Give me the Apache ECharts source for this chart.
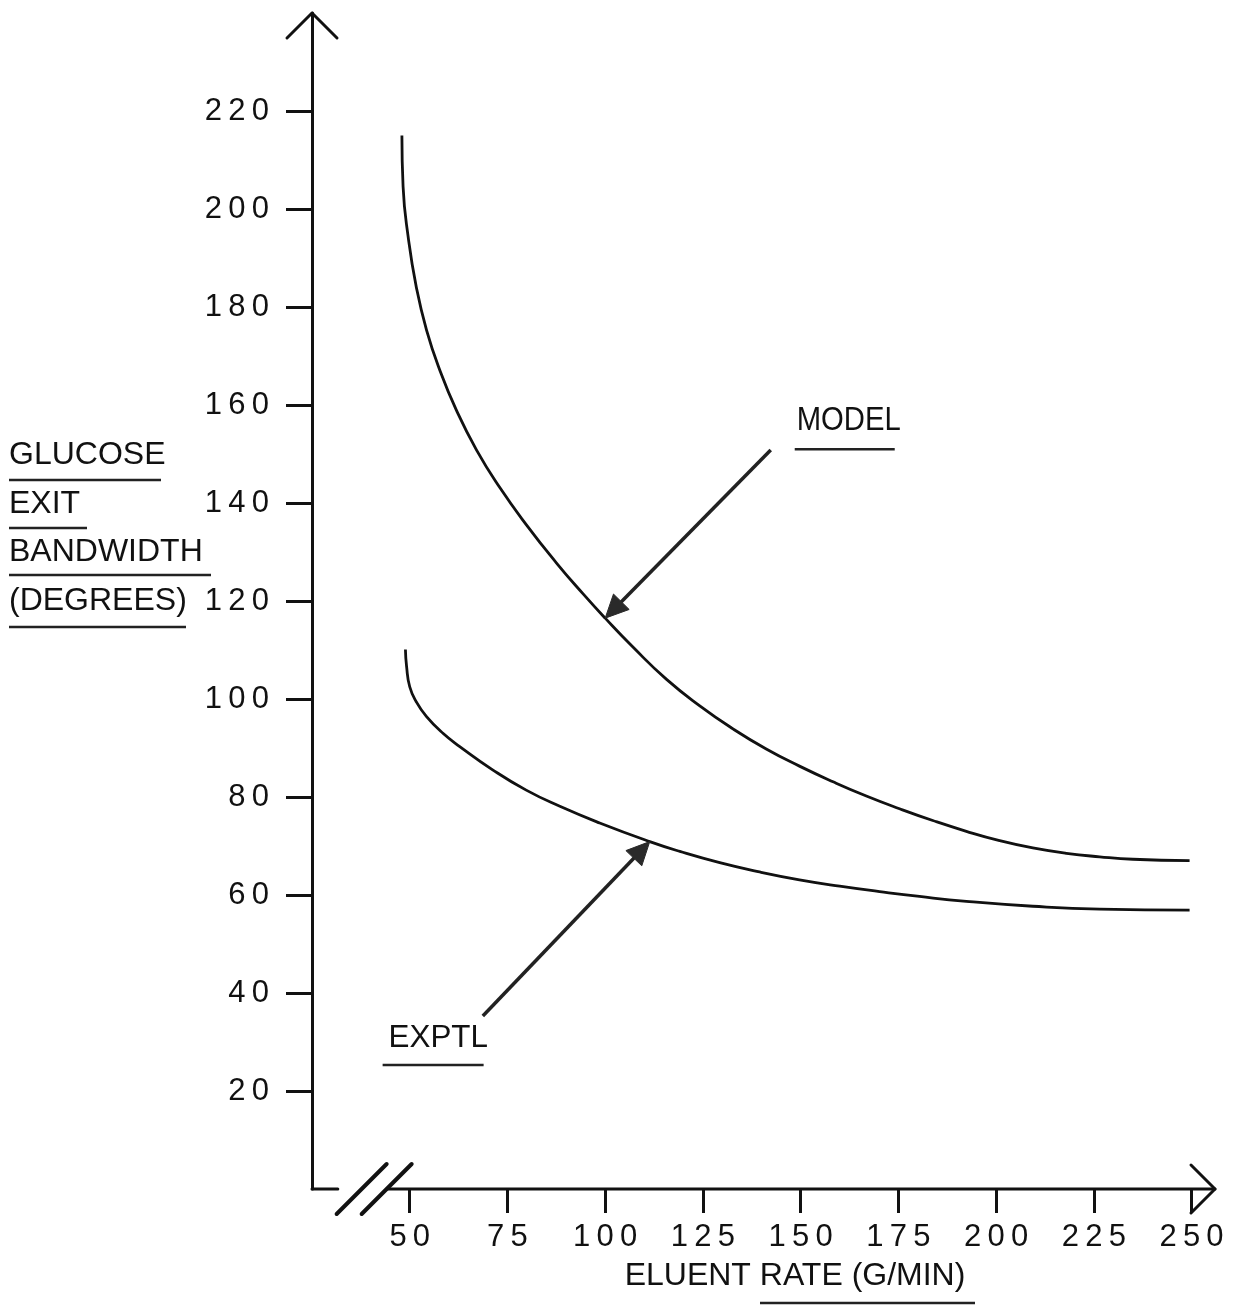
<!DOCTYPE html>
<html>
<head>
<meta charset="utf-8">
<title>Glucose exit bandwidth vs eluent rate</title>
<script src="https://cdn.jsdelivr.net/npm/echarts@6/dist/echarts.min.js"></script>
<style>
  html, body { margin: 0; padding: 0; background: #ffffff; }
  #chart { width: 1244px; height: 1306px; }
</style>
</head>
<body>
<div id="chart"></div>
<script>
// Tick values on both axes
const rateTicks = [50, 75, 100, 125, 150, 175, 200, 225, 250];
const widthTicks = [20, 40, 60, 80, 100, 120, 140, 160, 180, 200, 220];

// MODEL curve: eluent rate (g/min) vs glucose exit bandwidth (degrees)
const modelRate = [48, 48.3, 49.6, 51.7, 54.3, 57.7, 61.9, 67.1, 73, 79.8, 87.5, 94.3, 100,
  107.1, 115.7, 124.2, 132.7, 141.2, 149.7, 158.3, 166.8, 175.3, 183.8, 192.4, 200.9,
  209.4, 218, 226.5, 235, 249.5];
const modelWidth = [215, 204.6, 194.3, 184, 175.3, 167.1, 159, 150.8, 143.2, 135.6, 127.8, 121.5, 116.5,
  110.6, 104, 98.6, 93.9, 89.8, 86.3, 83.1, 80.2, 77.6, 75.2, 73, 71.1,
  69.6, 68.5, 67.8, 67.3, 67];

// EXPTL curve
const exptlRate = [48.9, 49.2, 50, 51.7, 54.3, 58.5, 62.8, 71.3, 79.8, 88.4, 98.6, 111.4, 119.1, 129.3, 139.5,
  149.7, 160, 170.2, 180.4, 192.4, 209.4, 226.5, 249.5];
const exptlWidth = [110.1, 106.6, 102.5, 99.4, 96.4, 93, 90.3, 85.5, 81.4, 78.1, 74.7, 70.9, 68.9, 66.6, 64.7,
  63.1, 61.8, 60.7, 59.7, 58.7, 57.7, 57.1, 56.9];

// Axis titles
const yTitleLines = ['GLUCOSE', 'EXIT', 'BANDWIDTH', '(DEGREES)'];
const xTitle = 'ELUENT RATE (G/MIN)';

// Callouts: label anchor and arrow tail in data units, arrow head on a curve point
const modelNote = { text: 'MODEL', label: [149, 156.8], tail: [142.35, 150.8], headIndex: 12 };
const exptlNote = { text: 'EXPTL', label: [44.6, 30.7], tail: [68.7, 35.3], headIndex: 11 };

// Axis extents: the vertical axis stands at rate 25; the horizontal axis is broken before 50
const X_MIN = 25, X_MAX = 256, Y_MIN = 0, Y_MAX = 240;
const BREAK_STUB_END = 31.6, BREAK_SLASH_1 = 37.7, BREAK_SLASH_2 = 44.1;

const INK = '#111111';
const FONT = '"Liberation Sans", Arial, Helvetica, sans-serif';

function zip(xs, ys) { return xs.map((x, i) => [x, ys[i]]); }
// tick numbers are set with wide tracking
function spaced(v) { return String(v).split('').join('\u2009'); }

function arrow(tail, tip, headLen, headHalf) {
  const dx = tip[0] - tail[0], dy = tip[1] - tail[1];
  const L = Math.hypot(dx, dy), ux = dx / L, uy = dy / L;
  const base = [tip[0] - ux * headLen, tip[1] - uy * headLen];
  const nx = -uy, ny = ux;
  return [
    { type: 'line', shape: { x1: tail[0], y1: tail[1], x2: base[0] + ux * 2, y2: base[1] + uy * 2 },
      style: { stroke: '#222', lineWidth: 3.5 } },
    { type: 'polygon', shape: { points: [tip, [base[0] + nx * headHalf, base[1] + ny * headHalf], [base[0] - nx * headHalf, base[1] - ny * headHalf]] },
      style: { fill: '#2a2a2a', stroke: '#2a2a2a', lineWidth: 1 } }
  ];
}

function note(api, n, points, fontSize, scaleX, ul) {
  const p = api.coord(n.label);
  const tail = api.coord(n.tail);
  const tip = api.coord(points[n.headIndex]);
  return [
    { type: 'text', x: p[0], y: p[1], scaleX: scaleX, originX: 0, originY: 0,
      style: { text: n.text, font: fontSize + 'px ' + FONT, fill: INK, align: 'left', verticalAlign: 'middle' } },
    { type: 'line', shape: { x1: p[0] + ul[0], y1: p[1] + ul[2], x2: p[0] + ul[1], y2: p[1] + ul[2] },
      style: { stroke: '#222', lineWidth: 2.5 } }
  ].concat(arrow(tail, tip, 23, 11));
}

function renderFrame(params, api) {
  const origin = api.coord([X_MIN, Y_MIN]);
  const top = api.coord([X_MIN, Y_MAX]);
  const end = api.coord([X_MAX, Y_MIN]);
  const stubEnd = api.coord([BREAK_STUB_END, Y_MIN]);
  const s1 = api.coord([BREAK_SLASH_1, Y_MIN]);
  const s2 = api.coord([BREAK_SLASH_2, Y_MIN]);
  const axisStyle = { stroke: INK, lineWidth: 3, lineCap: 'round', lineJoin: 'round' };
  const children = [
    // short stub of the horizontal axis next to the corner
    { type: 'line', shape: { x1: origin[0], y1: origin[1], x2: stubEnd[0], y2: stubEnd[1] }, style: axisStyle },
    // main horizontal axis after the break
    { type: 'line', shape: { x1: s2[0], y1: s2[1], x2: end[0], y2: end[1] }, style: axisStyle },
    // break marks
    { type: 'line', shape: { x1: s1[0] - 25, y1: s1[1] + 25, x2: s1[0] + 25, y2: s1[1] - 25 }, style: { stroke: INK, lineWidth: 4, lineCap: 'round' } },
    { type: 'line', shape: { x1: s2[0] - 25, y1: s2[1] + 25, x2: s2[0] + 25, y2: s2[1] - 25 }, style: { stroke: INK, lineWidth: 4, lineCap: 'round' } },
    // open arrowheads at the axis ends
    { type: 'polyline', shape: { points: [[top[0] - 25, top[1] + 25], top, [top[0] + 25, top[1] + 25]] }, style: Object.assign({ fill: null }, axisStyle) },
    { type: 'polyline', shape: { points: [[end[0] - 24, end[1] - 24], end, [end[0] - 24, end[1] + 24]] }, style: Object.assign({ fill: null }, axisStyle) }
  ];
  const modelPts = zip(modelRate, modelWidth);
  const exptlPts = zip(exptlRate, exptlWidth);
  return {
    type: 'group',
    children: children
      .concat(note(api, modelNote, modelPts, 34, 0.86, [-2, 98, 28.5]))
      .concat(note(api, exptlNote, exptlPts, 32, 0.98, [-6, 95, 26.5]))
  };
}

const yTitleGraphics = [];
const yTitleCenters = [455, 504, 552, 601];
const yTitleUnder = [[480, 161], [528, 87], [575, 211], [627, 186]];
yTitleLines.forEach((t, i) => {
  yTitleGraphics.push({ type: 'text', x: 9, y: yTitleCenters[i],
    style: { text: t, font: '32px ' + FONT, fill: INK, align: 'left', verticalAlign: 'middle' } });
  yTitleGraphics.push({ type: 'line', shape: { x1: 9, y1: yTitleUnder[i][0], x2: yTitleUnder[i][1], y2: yTitleUnder[i][0] },
    style: { stroke: '#222', lineWidth: 2.5 } });
});

const chart = echarts.init(document.getElementById('chart'), null, { renderer: 'canvas' });
chart.setOption({
  animation: false,
  backgroundColor: '#ffffff',
  grid: { left: 312, right: 29, top: 13, bottom: 117, containLabel: false },
  xAxis: {
    type: 'value', min: X_MIN, max: X_MAX,
    axisLine: { show: false, onZero: false },
    splitLine: { show: false },
    axisTick: { show: true, customValues: rateTicks, length: 24, lineStyle: { color: INK, width: 3 } },
    axisLabel: { customValues: rateTicks, formatter: spaced, margin: 33, fontSize: 31, fontFamily: FONT, color: INK }
  },
  yAxis: {
    type: 'value', min: Y_MIN, max: Y_MAX,
    axisLine: { show: true, onZero: false, lineStyle: { color: INK, width: 3 } },
    splitLine: { show: false },
    axisTick: { show: true, customValues: widthTicks, length: 26, lineStyle: { color: INK, width: 3 } },
    axisLabel: { customValues: widthTicks, formatter: spaced, margin: 43, fontSize: 31, fontFamily: FONT, color: INK }
  },
  series: [
    { name: 'MODEL', type: 'line', data: zip(modelRate, modelWidth), smooth: 0.5, showSymbol: false,
      lineStyle: { color: INK, width: 2.8 }, z: 3 },
    { name: 'EXPTL', type: 'line', data: zip(exptlRate, exptlWidth), smooth: 0.5, showSymbol: false,
      lineStyle: { color: INK, width: 2.8 }, z: 3 },
    { name: 'frame', type: 'custom', coordinateSystem: 'cartesian2d', data: [[X_MIN, Y_MIN]],
      renderItem: renderFrame, clip: false, silent: true, z: 4 }
  ],
  graphic: yTitleGraphics.concat([
    { type: 'text', x: 795, y: 1276.5,
      style: { text: xTitle, font: '32px ' + FONT, fill: INK, align: 'center', verticalAlign: 'middle' } },
    { type: 'line', shape: { x1: 760, y1: 1303, x2: 975, y2: 1303 }, style: { stroke: '#222', lineWidth: 2.5 } }
  ])
});
</script>
</body>
</html>
